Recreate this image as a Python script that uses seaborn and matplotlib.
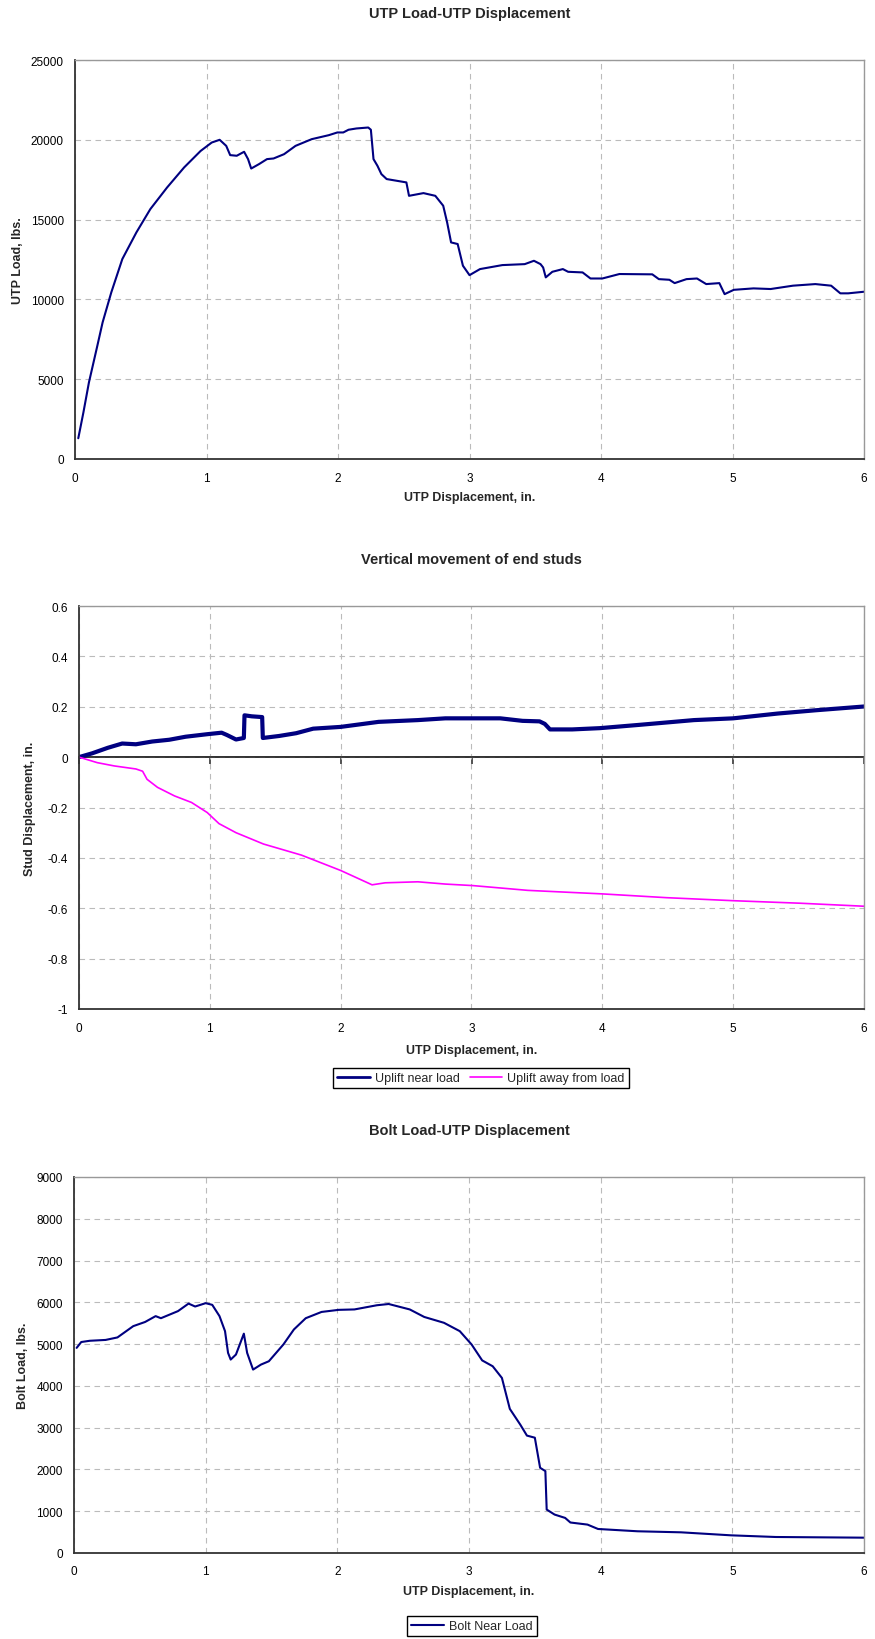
import matplotlib
matplotlib.use('Agg')
import matplotlib.pyplot as plt
import seaborn as sns

# UTP load vs UTP displacement
utp_x = [0.025, 0.064, 0.106, 0.17, 0.21, 0.276, 0.36, 0.467, 0.573, 0.70,
         0.83, 0.955, 1.04, 1.10, 1.15, 1.18, 1.23, 1.286, 1.316, 1.34,
         1.40, 1.46, 1.51, 1.59, 1.677, 1.80, 1.93, 1.995, 2.04, 2.08,
         2.14, 2.23, 2.25, 2.27, 2.30, 2.33, 2.37, 2.52, 2.54, 2.65,
         2.74, 2.80, 2.83, 2.86, 2.91, 2.95, 3.00, 3.08, 3.25, 3.42,
         3.49, 3.54, 3.56, 3.58, 3.63, 3.71, 3.75, 3.86, 3.92, 4.01,
         4.14, 4.39, 4.44, 4.52, 4.56, 4.65, 4.73, 4.80, 4.90, 4.94,
         5.01, 5.16, 5.29, 5.46, 5.63, 5.75, 5.82, 5.88, 6.00]
utp_load = [1300, 2920, 4800, 7100, 8560, 10440, 12530, 14200, 15660, 17010,
            18270, 19300, 19830, 20000, 19620, 19040, 19000, 19250, 18790, 18200,
            18480, 18790, 18830, 19100, 19620, 20040, 20290, 20460, 20460, 20630,
            20710, 20770, 20630, 18790, 18370, 17850, 17540, 17330, 16490, 16660,
            16490, 15870, 14820, 13570, 13470, 12110, 11520, 11900, 12150, 12210,
            12420, 12210, 12000, 11380, 11730, 11900, 11730, 11690, 11310, 11310,
            11590, 11570, 11270, 11230, 11020, 11270, 11310, 10960, 11020, 10330,
            10600, 10690, 10650, 10860, 10960, 10860, 10380, 10380, 10480]

# vertical movement of end studs
near_x = [0, 0.1, 0.22, 0.33, 0.435, 0.56, 0.69, 0.815, 0.98, 1.09,
          1.13, 1.20, 1.26, 1.265, 1.32, 1.40, 1.405, 1.53, 1.66, 1.79,
          2.0, 2.29, 2.59, 2.80, 3.01, 3.22, 3.39, 3.52, 3.56, 3.60,
          3.77, 3.98, 4.28, 4.70, 5.0, 5.34, 5.63, 6.0]
near_y = [0, 0.015, 0.037, 0.054, 0.051, 0.062, 0.069, 0.081, 0.091, 0.097,
          0.088, 0.07, 0.076, 0.166, 0.162, 0.159, 0.076, 0.084, 0.095, 0.113,
          0.12, 0.14, 0.147, 0.154, 0.154, 0.154, 0.144, 0.142, 0.132, 0.11,
          0.11, 0.115, 0.128, 0.147, 0.154, 0.173, 0.186, 0.201]
away_x = [0, 0.14, 0.27, 0.435, 0.486, 0.52, 0.60, 0.73, 0.86, 0.98,
          1.07, 1.20, 1.41, 1.70, 2.0, 2.24, 2.34, 2.59, 2.80, 3.01,
          3.43, 4.0, 4.49, 5.0, 5.51, 6.0]
away_y = [0, -0.022, -0.035, -0.047, -0.056, -0.088, -0.12, -0.154, -0.18, -0.22,
          -0.264, -0.30, -0.345, -0.389, -0.45, -0.507, -0.499, -0.495, -0.504, -0.51,
          -0.529, -0.543, -0.558, -0.57, -0.58, -0.592]

# bolt load vs UTP displacement
bolt_x = [0.02, 0.055, 0.12, 0.24, 0.33, 0.45, 0.54, 0.62, 0.66, 0.79,
          0.87, 0.92, 1.0, 1.05, 1.105, 1.147, 1.17, 1.19, 1.23, 1.29,
          1.315, 1.36, 1.42, 1.48, 1.59, 1.67, 1.76, 1.88, 2.01, 2.13,
          2.30, 2.39, 2.55, 2.66, 2.81, 2.93, 3.02, 3.10, 3.18, 3.25,
          3.31, 3.39, 3.44, 3.50, 3.54, 3.58, 3.59, 3.65, 3.73, 3.77,
          3.90, 3.98, 4.28, 4.61, 4.99, 5.33, 6.0]
bolt_load = [4910, 5050, 5080, 5100, 5160, 5430, 5530, 5670, 5620, 5790,
             5970, 5900, 5980, 5940, 5670, 5310, 4790, 4630, 4750, 5250,
             4790, 4390, 4510, 4590, 4990, 5350, 5620, 5770, 5820, 5830,
             5930, 5960, 5830, 5650, 5510, 5310, 4990, 4610, 4470, 4190,
             3450, 3070, 2810, 2760, 2040, 1960, 1040, 920, 840, 730,
             680, 575, 520, 495, 423, 383, 367]

x_ticks = [0, 1, 2, 3, 4, 5, 6]
utp_ticks = [0, 5000, 10000, 15000, 20000, 25000]
stud_ticks = [-1, -0.8, -0.6, -0.4, -0.2, 0, 0.2, 0.4, 0.6]
stud_labels = ['-1', '-0.8', '-0.6', '-0.4', '-0.2', '0', '0.2', '0.4', '0.6']
bolt_ticks = [0, 1000, 2000, 3000, 4000, 5000, 6000, 7000, 8000, 9000]

NAVY = '#000080'
MAGENTA = '#FF00FF'
DARK = '#333333'
W, H = 875, 1640

sns.set_style('white')
plt.rcParams['font.family'] = ['Liberation Sans', 'DejaVu Sans']

fig = plt.figure(figsize=(W / 100, H / 100), dpi=100)


def make_axes(left, right, top, bottom):
    return fig.add_axes([left / W, 1 - bottom / H, (right - left) / W, (bottom - top) / H])


def style(ax, title, ylabel, title_y, ylabel_x, xlabel_y):
    ax.set_xlim(0, 6)
    ax.set_xticks(x_ticks)
    ax.grid(True, color='#BBBBBB', linestyle=(0, (5, 4)), linewidth=0.8)
    ax.set_axisbelow(True)
    for s in ['left', 'bottom']:
        ax.spines[s].set_color(DARK)
        ax.spines[s].set_linewidth(1.3)
    for s in ['top', 'right']:
        ax.spines[s].set_color('#999999')
        ax.spines[s].set_linewidth(1.0)
    ax.tick_params(axis='both', labelsize=8.5, colors='black', length=4, width=1, direction='out')
    ax.tick_params(axis='y', pad=4)
    ax.tick_params(axis='x', pad=5)
    ax.text(0.5, title_y, title, transform=ax.transAxes, ha='center', va='center',
            fontsize=10.5, fontweight='bold')
    ax.set_xlabel('UTP Displacement, in.', fontsize=9, fontweight='bold')
    ax.xaxis.label.set_va('center')
    ax.xaxis.set_label_coords(0.5, xlabel_y)
    ax.set_ylabel(ylabel, fontsize=9, fontweight='bold')
    ax.yaxis.label.set_va('center')
    ax.yaxis.set_label_coords(ylabel_x, 0.5)


# chart 1 - UTP load
ax1 = make_axes(75, 864, 61, 460)
sns.lineplot(x=utp_x, y=utp_load, ax=ax1, color=NAVY, lw=1.5, sort=False, estimator=None, legend=False)
ax1.set_ylim(0, 25000)
ax1.set_yticks(utp_ticks)
style(ax1, 'UTP Load-UTP Displacement', 'UTP Load, lbs.', 1.118, -0.072, -0.095)

# chart 2 - stud movement
ax2 = make_axes(79, 864, 607, 1010)
ax2.axhline(0, color=DARK, lw=1.3, zorder=1.5)
sns.lineplot(x=near_x, y=near_y, ax=ax2, color=NAVY, lw=3.0, sort=False, estimator=None,
             label='Uplift near load')
sns.lineplot(x=away_x, y=away_y, ax=ax2, color=MAGENTA, lw=1.2, sort=False, estimator=None,
             label='Uplift away from load')
ax2.set_ylim(-1, 0.6)
ax2.set_yticks(stud_ticks)
ax2.set_yticklabels(stud_labels)
style(ax2, 'Vertical movement of end studs', 'Stud Displacement, in.', 1.117, -0.062, -0.102)
ax2.tick_params(axis='x', length=0, pad=9)
# tick marks on the zero line (axis crosses at 0, labels stay low)
zero_axis = ax2.secondary_xaxis(0.625)
zero_axis.set_alignment('bottom')
zero_axis.set_xticks(x_ticks)
zero_axis.set_xticklabels([])
zero_axis.tick_params(axis='x', direction='out', length=5, width=1.2, color=DARK)
for s in zero_axis.spines.values():
    s.set_color(DARK)
    s.set_linewidth(1.3)
leg2 = ax2.legend(loc='center', bbox_to_anchor=(481 / W, 1 - 1079 / H), bbox_transform=fig.transFigure,
                  ncol=2, fontsize=9, frameon=True, fancybox=False, framealpha=1, edgecolor='black',
                  handlelength=2.6, handletextpad=0.4, columnspacing=0.8, borderpad=0.35)
leg2.get_frame().set_linewidth(1.0)
leg2.get_lines()[0].set_linewidth(2)
leg2.get_lines()[1].set_linewidth(1.2)

# chart 3 - bolt load
ax3 = make_axes(74, 864, 1178, 1554)
sns.lineplot(x=bolt_x, y=bolt_load, ax=ax3, color=NAVY, lw=1.5, sort=False, estimator=None,
             label='Bolt Near Load')
ax3.set_ylim(0, 9000)
ax3.set_yticks(bolt_ticks)
style(ax3, 'Bolt Load-UTP Displacement', 'Bolt Load, lbs.', 1.125, -0.065, -0.101)
leg3 = ax3.legend(loc='center', bbox_to_anchor=(472 / W, 1 - 1627 / H), bbox_transform=fig.transFigure,
                  fontsize=9, frameon=True, fancybox=False, framealpha=1, edgecolor='black',
                  handlelength=2.6, handletextpad=0.4, borderpad=0.35)
leg3.get_frame().set_linewidth(1.0)

fig.savefig('out.png', dpi=100)
